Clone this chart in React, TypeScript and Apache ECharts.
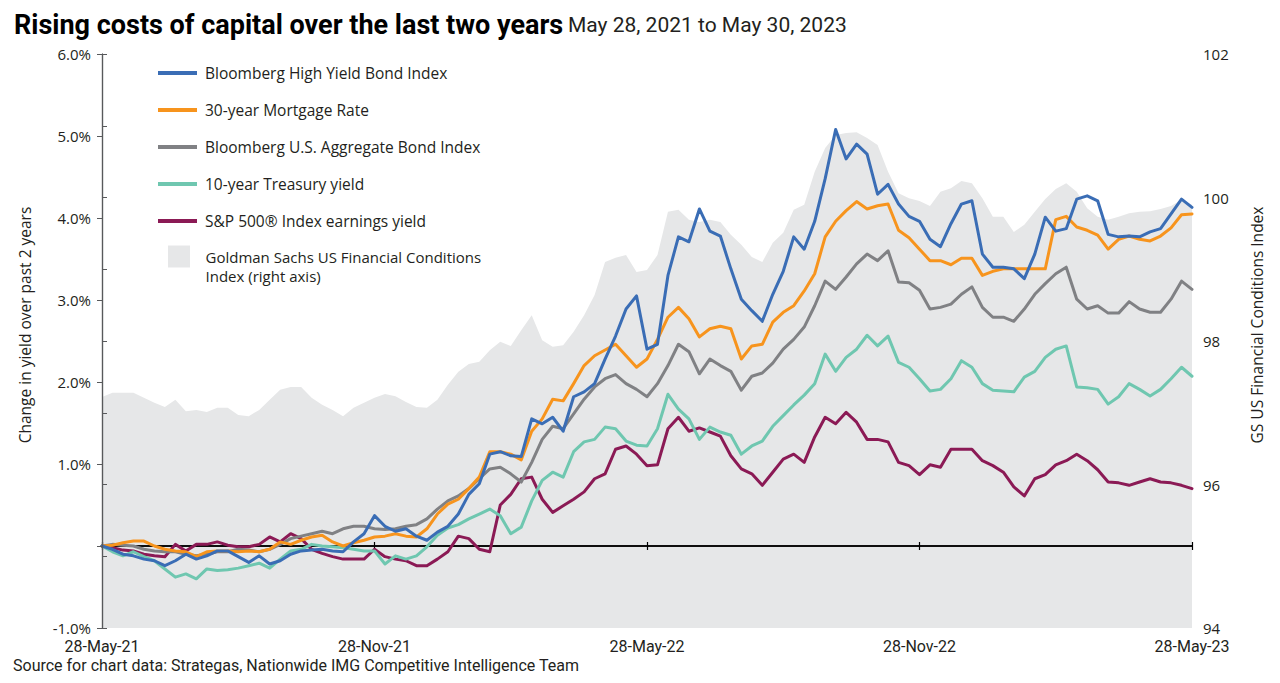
import { useEffect, useRef } from 'react';
import * as echarts from 'echarts';

// ---- Data (weekly samples, week 0 = 28-May-21, week 104 = 28-May-23) ----
const X_TICK_LABELS = ['28-May-21', '28-Nov-21', '28-May-22', '28-Nov-22', '28-May-23'];
const WEEKS_PER_TICK = 26;
const LAST_WEEK = 104;

const HY_NAME = 'Bloomberg High Yield Bond Index';
const MORT_NAME = '30-year Mortgage Rate';
const AGG_NAME = 'Bloomberg U.S. Aggregate Bond Index';
const TSY_NAME = '10-year Treasury yield';
const SPX_NAME = 'S&P 500\u00AE Index earnings yield';
const FCI_NAME = 'Goldman Sachs US Financial Conditions\nIndex (right axis)';

const HIGH_YIELD = [
  0.00, -0.04, -0.10, -0.12, -0.16, -0.18, -0.24, -0.18, -0.10, -0.16,
  -0.12, -0.06, -0.06, -0.13, -0.20, -0.12, -0.22, -0.18, -0.10, -0.06,
  -0.05, -0.04, -0.06, -0.07, 0.05, 0.15, 0.37, 0.24, 0.18, 0.21,
  0.12, 0.07, 0.17, 0.24, 0.39, 0.63, 0.76, 1.12, 1.15, 1.10,
  1.09, 1.55, 1.49, 1.57, 1.40, 1.82, 1.88, 1.98, 2.28, 2.56,
  2.89, 3.05, 2.40, 2.46, 3.30, 3.77, 3.71, 4.11, 3.84, 3.78,
  3.38, 3.01, 2.87, 2.74, 3.07, 3.35, 3.77, 3.62, 3.96, 4.48,
  5.08, 4.72, 4.90, 4.78, 4.29, 4.41, 4.17, 4.02, 3.96, 3.74,
  3.65, 3.93, 4.17, 4.21, 3.56, 3.40, 3.40, 3.38, 3.26, 3.56,
  4.01, 3.84, 3.87, 4.23, 4.27, 4.21, 3.80, 3.77, 3.78, 3.77,
  3.83, 3.87, 4.05, 4.23, 4.13,
];

const MORTGAGE = [
  0.00, 0.01, 0.04, 0.06, 0.06, 0.00, -0.04, -0.06, -0.07, -0.13,
  -0.07, -0.06, -0.06, -0.07, -0.06, -0.07, -0.04, 0.05, 0.02, 0.07,
  0.11, 0.13, 0.05, 0.00, 0.04, 0.07, 0.11, 0.12, 0.15, 0.12,
  0.11, 0.21, 0.39, 0.51, 0.57, 0.70, 0.84, 1.15, 1.15, 1.12,
  1.05, 1.40, 1.55, 1.79, 1.77, 1.98, 2.20, 2.32, 2.39, 2.46,
  2.32, 2.18, 2.28, 2.52, 2.79, 2.91, 2.77, 2.55, 2.65, 2.68,
  2.65, 2.28, 2.44, 2.46, 2.73, 2.85, 2.93, 3.11, 3.32, 3.77,
  3.96, 4.09, 4.20, 4.11, 4.15, 4.17, 3.85, 3.76, 3.62, 3.48,
  3.48, 3.43, 3.51, 3.51, 3.30, 3.35, 3.38, 3.38, 3.38, 3.38,
  3.38, 3.98, 4.02, 3.89, 3.85, 3.79, 3.62, 3.74, 3.78, 3.74,
  3.72, 3.78, 3.88, 4.04, 4.05,
];

const AGGREGATE = [
  0.00, 0.02, 0.01, 0.00, -0.04, -0.06, -0.07, -0.07, -0.10, -0.12,
  -0.10, -0.07, -0.07, -0.04, -0.05, -0.07, -0.04, 0.02, 0.09, 0.12,
  0.15, 0.18, 0.15, 0.21, 0.24, 0.24, 0.21, 0.20, 0.21, 0.24,
  0.26, 0.33, 0.45, 0.55, 0.61, 0.70, 0.82, 0.94, 0.96, 0.88,
  0.78, 1.02, 1.30, 1.46, 1.43, 1.61, 1.79, 1.94, 2.04, 2.09,
  1.98, 1.91, 1.82, 1.98, 2.20, 2.46, 2.37, 2.10, 2.28, 2.20,
  2.13, 1.90, 2.07, 2.11, 2.23, 2.40, 2.52, 2.67, 2.93, 3.23,
  3.13, 3.28, 3.44, 3.56, 3.48, 3.60, 3.22, 3.21, 3.12, 2.89,
  2.91, 2.95, 3.07, 3.16, 2.91, 2.79, 2.79, 2.74, 2.89, 3.07,
  3.20, 3.32, 3.40, 3.01, 2.89, 2.93, 2.84, 2.84, 2.98, 2.89,
  2.85, 2.85, 3.01, 3.23, 3.13,
];

const TREASURY_10Y = [
  0.00, -0.07, -0.12, -0.07, -0.13, -0.18, -0.28, -0.38, -0.34, -0.40,
  -0.28, -0.30, -0.29, -0.27, -0.24, -0.21, -0.27, -0.16, -0.06, -0.04,
  0.02, 0.00, -0.01, -0.02, -0.04, -0.06, -0.06, -0.22, -0.12, -0.16,
  -0.12, -0.01, 0.13, 0.22, 0.26, 0.33, 0.39, 0.45, 0.37, 0.15,
  0.23, 0.55, 0.80, 0.90, 0.84, 1.15, 1.27, 1.30, 1.45, 1.43,
  1.28, 1.23, 1.22, 1.43, 1.85, 1.67, 1.55, 1.30, 1.45, 1.39,
  1.35, 1.12, 1.22, 1.28, 1.46, 1.59, 1.72, 1.84, 1.98, 2.34,
  2.13, 2.30, 2.40, 2.57, 2.44, 2.56, 2.24, 2.18, 2.04, 1.89,
  1.91, 2.04, 2.26, 2.18, 1.98, 1.90, 1.89, 1.88, 2.06, 2.13,
  2.30, 2.40, 2.44, 1.94, 1.93, 1.91, 1.73, 1.82, 1.98, 1.91,
  1.83, 1.91, 2.04, 2.18, 2.07,
];

const SPX_EARNINGS_YIELD = [
  0.00, -0.02, -0.05, -0.06, -0.10, -0.12, -0.13, 0.02, -0.06, 0.02,
  0.02, 0.05, 0.01, -0.01, -0.01, 0.02, 0.11, 0.05, 0.15, 0.09,
  -0.04, -0.09, -0.13, -0.16, -0.16, -0.16, -0.04, -0.13, -0.16, -0.18,
  -0.24, -0.24, -0.16, -0.07, 0.12, 0.09, -0.04, -0.07, 0.50, 0.63,
  0.82, 0.84, 0.57, 0.41, 0.49, 0.57, 0.66, 0.82, 0.88, 1.18,
  1.22, 1.12, 0.98, 0.99, 1.43, 1.57, 1.40, 1.44, 1.39, 1.34,
  1.10, 0.94, 0.88, 0.74, 0.90, 1.06, 1.12, 1.02, 1.33, 1.57,
  1.49, 1.63, 1.51, 1.30, 1.30, 1.27, 1.02, 0.98, 0.87, 0.99,
  0.96, 1.18, 1.18, 1.18, 1.04, 0.98, 0.90, 0.72, 0.61, 0.82,
  0.87, 0.99, 1.04, 1.12, 1.04, 0.93, 0.78, 0.77, 0.74, 0.78,
  0.82, 0.78, 0.77, 0.74, 0.70,
];

const GS_FCI = [
  97.22, 97.28, 97.28, 97.28, 97.21, 97.14, 97.08, 97.18, 97.02, 97.04,
  97.01, 97.07, 97.07, 96.97, 96.95, 97.04, 97.18, 97.32, 97.36, 97.36,
  97.21, 97.11, 97.04, 96.95, 97.07, 97.14, 97.21, 97.26, 97.23, 97.15,
  97.08, 97.07, 97.18, 97.39, 97.57, 97.68, 97.71, 97.87, 97.99, 97.93,
  98.15, 98.36, 98.01, 97.92, 97.94, 98.13, 98.36, 98.64, 99.10, 99.16,
  99.20, 98.96, 98.99, 99.20, 99.80, 99.83, 99.69, 99.66, 99.69, 99.66,
  99.48, 99.34, 99.17, 99.10, 99.37, 99.51, 99.83, 99.90, 100.36, 100.69,
  100.87, 100.90, 100.91, 100.83, 100.73, 100.36, 100.06, 99.99, 99.95, 99.88,
  100.08, 100.13, 100.23, 100.20, 99.99, 99.73, 99.73, 99.52, 99.62, 99.80,
  99.98, 100.12, 100.20, 100.08, 99.85, 99.73, 99.69, 99.73, 99.78, 99.80,
  99.81, 99.84, 99.88, 99.97, 99.90,
];

const COLORS = {
  hy: '#3a6db5',
  mort: '#f7941d',
  agg: '#808184',
  tsy: '#6fc7b0',
  spx: '#8b1a55',
  fci: '#e6e7e8',
};

const TEXT = '#231f20';
const AXIS = '#58595b';
const LINE_ICON = 'path://M0,0L39,0L39,4L0,4Z';
const SQUARE_ICON = 'path://M0,0L10,0L10,10L0,10Z';

const toPoints = (vals: number[]) => vals.map((v, i) => [i, v]);

function lineSeries(name: string, vals: number[], color: string) {
  return {
    name,
    type: 'line',
    xAxisIndex: 0,
    yAxisIndex: 0,
    data: toPoints(vals),
    symbol: 'none',
    showSymbol: false,
    lineStyle: { color, width: 3, join: 'round', cap: 'round' },
    itemStyle: { color },
    z: 3,
  };
}

export default function App() {
  const ref = useRef<HTMLDivElement>(null);

  useEffect(() => {
    document.body.style.margin = '0';
    const chart = echarts.init(ref.current as HTMLDivElement, null, { renderer: 'svg' });

    const zeroAxisBase = {
      type: 'value',
      min: 0,
      max: LAST_WEEK,
      interval: WEEKS_PER_TICK,
      position: 'bottom',
      axisLine: { show: true, onZero: true, onZeroAxisIndex: 0, lineStyle: { color: '#000', width: 1.5 } },
      axisLabel: { show: false },
      splitLine: { show: false },
      z: 2,
    };

    const nameStyle = { fontFamily: 'Open Sans', fontSize: 15.5, color: TEXT, padding: [0, 0, 0, 32] };
    const legendFont = { fontFamily: 'Open Sans', fontSize: 15.5, color: TEXT };
    const fciFont = { fontFamily: 'Open Sans', fontSize: 15, color: TEXT };

    const option = {
      animation: false,
      textStyle: { fontFamily: 'Open Sans', color: TEXT },
      title: {
        left: 14,
        top: 11,
        padding: 0,
        text: '{a|Rising costs of capital over the last two years} {b|May 28, 2021 to May 30, 2023}',
        textStyle: {
          rich: {
            a: { fontFamily: 'Roboto', fontWeight: 'bold', fontSize: 27, color: '#000' },
            b: { fontFamily: 'Roboto', fontWeight: 'normal', fontSize: 21, color: TEXT },
          },
        },
      },
      legend: [
        {
          orient: 'vertical',
          left: 158,
          top: 65,
          padding: 0,
          itemWidth: 39,
          itemHeight: 22,
          itemGap: 21,
          selectedMode: false,
          symbolKeepAspect: true,
          textStyle: { ...legendFont, padding: [0, 0, 0, 3] },
          data: [HY_NAME, MORT_NAME, AGG_NAME, TSY_NAME, SPX_NAME].map((name) => ({ name, icon: LINE_ICON })),
        },
        {
          orient: 'vertical',
          left: 168,
          top: 230,
          padding: 0,
          itemWidth: 39,
          itemHeight: 22,
          selectedMode: false,
          symbolKeepAspect: true,
          formatter: (name: string) =>
            '{s| }\n' + name.split('\n').map((line) => '{t|' + line + '}').join('\n'),
          textStyle: {
            ...fciFont,
            rich: {
              s: { ...fciFont, lineHeight: 19 },
              t: { ...fciFont, lineHeight: 19, padding: [0, 0, 0, 2] },
            },
          },
          data: [{ name: FCI_NAME, icon: SQUARE_ICON }],
        },
      ],
      grid: { left: 102, right: 88, top: 54, bottom: 55, containLabel: false },
      xAxis: [
        {
          type: 'value',
          min: 0,
          max: LAST_WEEK,
          interval: WEEKS_PER_TICK,
          position: 'bottom',
          axisLine: { show: false, onZero: false },
          axisTick: { show: false },
          splitLine: { show: false },
          axisLabel: {
            margin: 10,
            fontFamily: 'Roboto',
            fontSize: 16,
            color: TEXT,
            showMinLabel: true,
            showMaxLabel: true,
            formatter: (v: number) => X_TICK_LABELS[Math.round(v / WEEKS_PER_TICK)] ?? '',
          },
        },
        { ...zeroAxisBase, axisTick: { show: true, inside: false, length: 4, lineStyle: { color: '#000', width: 1.2 } } },
        { ...zeroAxisBase, axisTick: { show: true, inside: true, length: 4, lineStyle: { color: '#000', width: 1.2 } } },
      ],
      yAxis: [
        {
          type: 'value',
          position: 'left',
          min: -1,
          max: 6,
          interval: 1,
          z: 4,
          axisLine: { show: true, lineStyle: { color: AXIS, width: 1.2 } },
          axisTick: { show: true, length: 5, lineStyle: { color: AXIS } },
          splitLine: { show: false },
          axisLabel: {
            margin: 11,
            fontFamily: 'Open Sans',
            fontSize: 15,
            color: TEXT,
            formatter: (v: number) => (v === 0 ? '' : v.toFixed(1) + '%'),
          },
          name: 'Change in yield over past 2 years',
          nameLocation: 'middle',
          nameRotate: 90,
          nameGap: 69,
          nameTextStyle: nameStyle,
        },
        {
          type: 'value',
          position: 'right',
          min: 94,
          max: 102,
          interval: 1,
          z: 4,
          axisLine: { show: true, lineStyle: { color: AXIS, width: 1.2 } },
          axisTick: { show: true, length: 5, lineStyle: { color: AXIS } },
          splitLine: { show: false },
          axisLabel: {
            margin: 11,
            fontFamily: 'Open Sans',
            fontSize: 15,
            color: TEXT,
            formatter: (v: number) => (Math.round(v) % 2 === 0 ? String(v) : ''),
          },
          name: 'GS US Financial Conditions Index',
          nameLocation: 'middle',
          nameRotate: 90,
          nameGap: 57,
          nameTextStyle: nameStyle,
        },
      ],
      series: [
        {
          name: FCI_NAME,
          type: 'line',
          xAxisIndex: 0,
          yAxisIndex: 1,
          data: toPoints(GS_FCI),
          symbol: 'none',
          showSymbol: false,
          lineStyle: { width: 0, color: COLORS.fci },
          itemStyle: { color: COLORS.fci },
          areaStyle: { color: COLORS.fci, opacity: 1, origin: 'start' },
          silent: true,
          z: 0,
        },
        lineSeries(SPX_NAME, SPX_EARNINGS_YIELD, COLORS.spx),
        lineSeries(TSY_NAME, TREASURY_10Y, COLORS.tsy),
        lineSeries(AGG_NAME, AGGREGATE, COLORS.agg),
        lineSeries(MORT_NAME, MORTGAGE, COLORS.mort),
        lineSeries(HY_NAME, HIGH_YIELD, COLORS.hy),
      ],
      graphic: [
        {
          type: 'text',
          left: 13,
          top: 657,
          style: {
            text: 'Source for chart data: Strategas, Nationwide IMG Competitive Intelligence Team',
            font: '16px Roboto',
            fill: TEXT,
          },
        },
      ],
    };

    chart.setOption(option as any);
    return () => chart.dispose();
  }, []);

  return <div ref={ref} style={{ width: 1280, height: 683 }} />;
}
